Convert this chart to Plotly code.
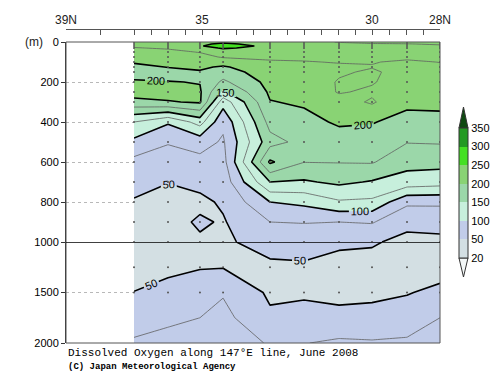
import plotly.graph_objects as go

# ---------------- data ----------------
lats = [37.0, 36.0, 35.06, 34.38, 33.0, 32.0, 30.97, 30.0, 28.97, 28.0]
depths = [0, 10, 20, 30, 50, 75, 100, 125, 150, 200, 250, 300, 400, 500,
          600, 700, 800, 900, 1000, 1250, 1500, 1750, 2000]

o2_37n = [235, 232, 228, 224, 218, 210, 203, 192, 180, 206, 212, 192, 125, 94,
          68, 58, 48, 44, 40, 40, 50.5, 68, 77]
o2_36n = [238, 235, 231, 227, 220, 212, 206, 201, 190, 201, 212, 198, 103, 77,
          62, 50.5, 44, 42, 40, 45, 57, 72, 80]
o2_35n = [245, 248, 249, 243, 226, 218, 210, 204, 198, 199, 203, 203, 135, 85,
          68, 56, 45, 53, 47, 49, 60, 75, 84]
o2_344n = [248, 252, 256, 252, 240, 227, 212, 197, 188, 170, 145, 110, 80, 72,
           66, 60, 53, 48, 46, 49, 73, 82, 88]
o2_33n = [244, 246, 247, 245, 238, 230, 222, 218, 214, 208, 204, 199, 184, 166,
          204, 150, 100, 75, 60, 45, 46, 54, 73]
o2_32n = [232, 234, 236, 236, 234, 229, 224, 220, 216, 210, 206, 203, 193, 183,
          175.5, 147, 106, 76, 62, 46, 47.5, 56, 74]
o2_31n = [224, 229, 232, 234, 235, 230, 226, 222, 222, 227, 227, 215, 203, 190,
          176, 155, 122, 75, 53, 44, 48, 52, 80]
o2_30n = [222, 226, 230, 233, 234, 231, 226, 224, 228, 227, 221, 228, 201, 192,
          177, 148, 120, 77, 52, 43, 48, 53, 78]
o2_29n = [221, 225.5, 229, 231, 232, 229, 222, 220, 217, 212, 208, 204, 194, 176,
          158, 140, 80, 55, 45, 42, 49, 58, 80]
o2_28n = [220, 223.5, 227, 229, 231, 228, 225.5, 221, 218, 213, 209, 205, 194, 177,
          158, 136, 80, 56, 46, 43, 54, 75, 86]

stations = [o2_37n, o2_36n, o2_35n, o2_344n, o2_33n, o2_32n, o2_31n, o2_30n,
            o2_29n, o2_28n]

band_edges = [20, 50, 100, 150, 200, 250, 300, 350]
band_colors = ['#f3f7f7', '#d3dfe3', '#c1cce9', '#c7efdc', '#9bd7a9',
               '#89d374', '#44e022', '#239a22', '#0f4a12']

top_ticks = [39, 38, 37, 36.5, 36, 35.5, 35, 34.5, 34, 33.5, 33, 32.5, 32, 31.5,
             31, 30.5, 30, 29.5, 29, 28.5, 28]
top_labels = {39: '39N', 35: '35', 30: '30', 28: '28N'}

# ---------------- grids ----------------
z = [[st[i] for st in stations] for i in range(len(depths))]
up_idx = [i for i, d in enumerate(depths) if d <= 1000]
lo_idx = [i for i, d in enumerate(depths) if d >= 1000]

cscale = [[k / 7, c] for k, c in enumerate(band_colors[1:])]

fig = go.Figure()

def add_fields(idx, yax):
    yy = [depths[i] for i in idx]
    zz = [z[i] for i in idx]
    fig.add_trace(go.Contour(
        x=lats, y=yy, z=zz, yaxis=yax, xaxis='x',
        colorscale=cscale, showscale=False, hoverinfo='skip',
        contours=dict(start=50, end=350, size=50, coloring='fill',
                      showlabels=True,
                      labelfont=dict(size=11, color='black', family='Arial')),
        line=dict(color='black', width=1.6, smoothing=0)))
    fig.add_trace(go.Contour(
        x=lats, y=yy, z=zz, yaxis=yax, xaxis='x',
        showscale=False, hoverinfo='skip',
        contours=dict(start=75, end=325, size=50, coloring='none'),
        line=dict(color='#606060', width=0.8, smoothing=0)))

add_fields(up_idx, 'y')
add_fields(lo_idx, 'y2')

# sampling points
for idx, yax in ((up_idx, 'y'), ([i for i in lo_idx if 1000 < depths[i] <= 1500], 'y2')):
    xs, ys = [], []
    for i in idx:
        for la in lats:
            xs.append(la)
            ys.append(depths[i])
    fig.add_trace(go.Scatter(x=xs, y=ys, mode='markers', xaxis='x', yaxis=yax,
                             marker=dict(size=2, color='#555555'),
                             hoverinfo='skip', showlegend=False))

# colorbar (dummy)
cb_scale = []
for k, c in enumerate(band_colors[1:8]):
    cb_scale.append([k / 7, c])
    cb_scale.append([(k + 1) / 7, c])
fig.add_trace(go.Scatter(
    x=[None], y=[None], mode='markers', xaxis='x', yaxis='y',
    marker=dict(color=[0], cmin=0, cmax=7, colorscale=cb_scale, showscale=True,
                colorbar=dict(x=(459 - 66) / 374, xanchor='left', xpad=0,
                              y=(343 - 193) / 314, yanchor='middle', ypad=0,
                              thickness=9, thicknessmode='pixels',
                              len=130, lenmode='pixels',
                              outlinewidth=1, outlinecolor='#333333',
                              tickvals=list(range(8)),
                              ticktext=[str(v) for v in band_edges],
                              ticks='', tickfont=dict(size=11, color='black',
                                                      family='Arial'))),
    showlegend=False, hoverinfo='skip'))

# invisible trace for the top axis
fig.add_trace(go.Scatter(x=[39, 28], y=[0, 0], xaxis='x2', yaxis='y', mode='markers',
                         marker=dict(opacity=0), hoverinfo='skip', showlegend=False))

yd_top = (343 - 42) / 314
yd_mid = (343 - 242) / 314

cbx0, cbx1 = (459 - 66) / 374, (468 - 66) / 374
shapes = [
    dict(type='rect', xref='paper', yref='paper', x0=0, x1=1, y0=0, y1=yd_top,
         line=dict(color='#555555', width=1), layer='above'),
    dict(type='line', xref='paper', yref='y2', x0=0, x1=1, y0=1000, y1=1000,
         line=dict(color='black', width=1.3), layer='above'),
    dict(type='path', xref='paper', yref='paper', layer='above',
         path='M %f %f L %f %f L %f %f Z' % (cbx0, (343 - 128) / 314,
                                             cbx1, (343 - 128) / 314,
                                             (cbx0 + cbx1) / 2, (343 - 107) / 314),
         fillcolor=band_colors[8], line=dict(color='#333333', width=1)),
    dict(type='path', xref='paper', yref='paper', layer='above',
         path='M %f %f L %f %f L %f %f Z' % (cbx0, (343 - 258) / 314,
                                             cbx1, (343 - 258) / 314,
                                             (cbx0 + cbx1) / 2, (343 - 277) / 314),
         fillcolor=band_colors[0], line=dict(color='#333333', width=1)),
]
# separators between colour boxes
for k in range(1, len(band_edges) - 1):
    yy = (343 - (258 - k * 130 / 7)) / 314
    shapes.append(dict(type='line', xref='paper', yref='paper', x0=cbx0, x1=cbx1,
                       y0=yy, y1=yy, line=dict(color='#555555', width=0.8),
                       layer='above'))

fig.update_layout(
    width=500, height=387,
    margin=dict(l=66, r=60, t=29, b=44),
    paper_bgcolor='white', plot_bgcolor='white',
    showlegend=False,
    font=dict(family='Arial', size=11, color='black'),
    xaxis=dict(domain=[0, 1], range=[39, 28], anchor='y2', showticklabels=False,
               ticks='', showgrid=False, zeroline=False, showline=False),
    xaxis2=dict(overlaying='x', side='top', anchor='free', position=1,
                range=[39, 28], tickvals=top_ticks,
                ticktext=[top_labels.get(t, '') for t in top_ticks],
                ticks='inside', ticklen=5, tickcolor='#555555', showline=True,
                linecolor='#555555', linewidth=1, showgrid=False, zeroline=False,
                tickfont=dict(size=12, color='#222222')),
    yaxis=dict(domain=[yd_mid, yd_top], range=[1000, 0], anchor='x',
               tickvals=[0, 200, 400, 600, 800], ticks='outside', ticklen=4,
               tickcolor='#333333', showline=True, linecolor='#333333',
               showgrid=True, gridcolor='#b8b8b8', griddash='dot', zeroline=False,
               tickfont=dict(size=11)),
    yaxis2=dict(domain=[0, yd_mid], range=[2000, 1000], anchor='x',
                tickvals=[1000, 1500, 2000], ticks='outside', ticklen=4,
                tickcolor='#333333', showline=True, linecolor='#333333',
                showgrid=True, gridcolor='#b8b8b8', griddash='dot', zeroline=False,
                tickfont=dict(size=11)),
    shapes=shapes,
    annotations=[
        dict(text='(m)', xref='paper', yref='paper', x=(45 - 66) / 374, y=yd_top,
             xanchor='right', yanchor='middle', showarrow=False,
             font=dict(size=12, color='#222222')),
        dict(text='Dissolved Oxygen along 147°E line, June 2008', xref='paper',
             yref='paper', x=0, y=(343 - 353) / 314, xanchor='left', yanchor='middle',
             showarrow=False, font=dict(family='Liberation Mono', size=11, color='black')),
        dict(text='<b>(C) Japan Meteorological Agency</b>', xref='paper',
             yref='paper', x=0, y=(343 - 367) / 314, xanchor='left', yanchor='middle',
             showarrow=False, font=dict(family='Liberation Mono', size=9, color='black')),
    ],
)

fig.write_html('out.html', config={'displayModeBar': False},
               post_script="document.body.style.margin='0';"
                           "document.body.style.padding='0';")
